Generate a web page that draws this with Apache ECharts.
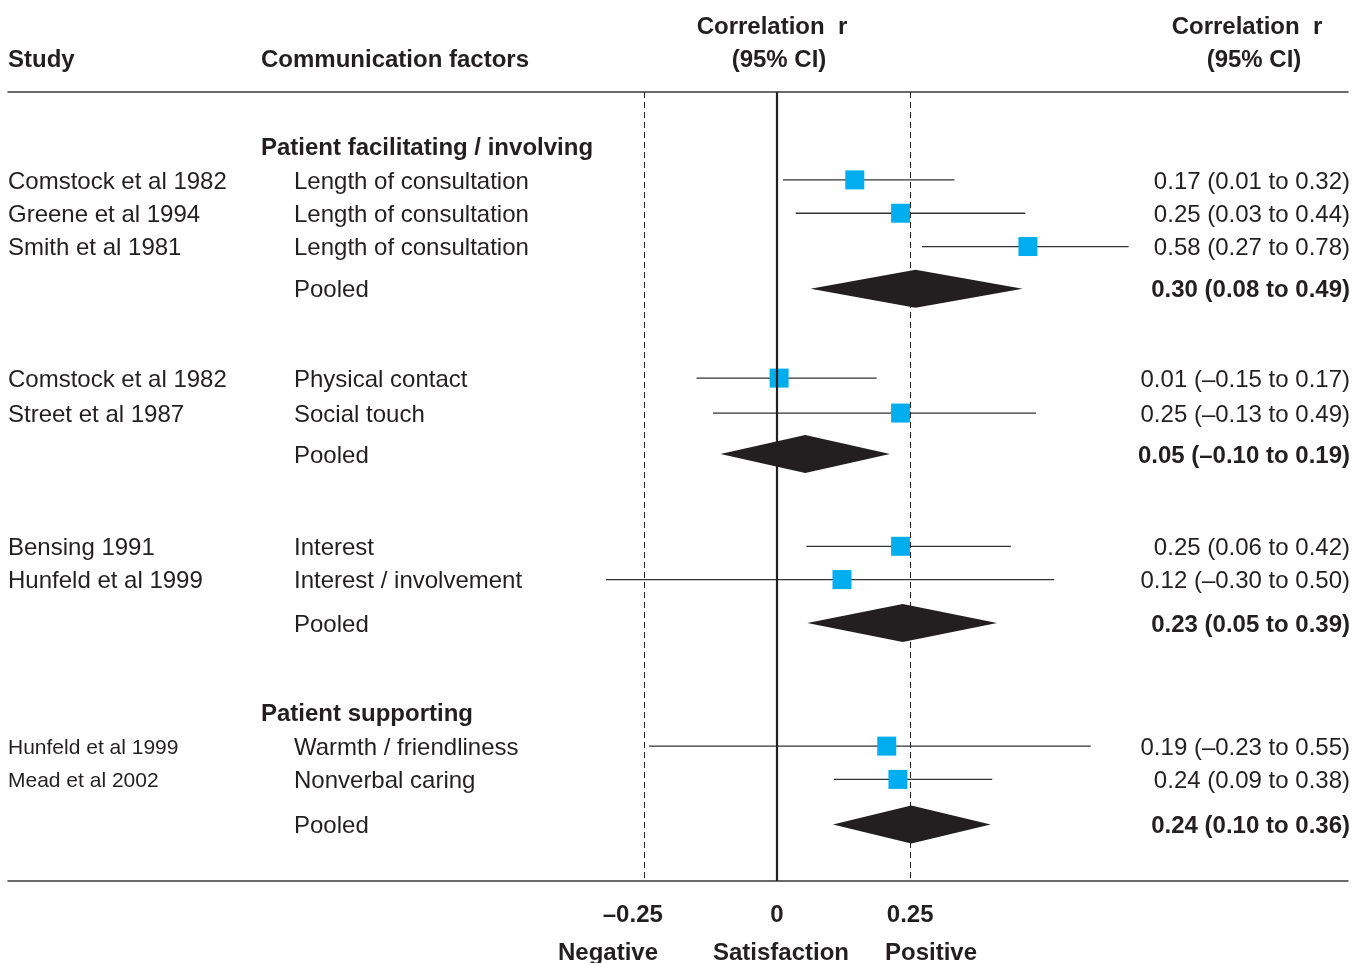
<!DOCTYPE html>
<html>
<head>
<meta charset="utf-8">
<title>Communication factors and satisfaction</title>
<script src="https://cdn.jsdelivr.net/npm/echarts@6/dist/echarts.min.js"></script>
<style>
    html, body { margin: 0; padding: 0; background: #fff; }
    #chart { width: 1352px; height: 963px; }
</style>
</head>
<body>
<div id="chart"></div>
<script>
// rows of the table, top to bottom
var studyNames = ['Comstock et al 1982', 'Greene et al 1994', 'Smith et al 1981', '',
    'Comstock et al 1982', 'Street et al 1987', '',
    'Bensing 1991', 'Hunfeld et al 1999', '',
    'Hunfeld et al 1999', 'Mead et al 2002', ''];
var factorNames = ['Length of consultation', 'Length of consultation', 'Length of consultation', 'Pooled',
    'Physical contact', 'Social touch', 'Pooled',
    'Interest', 'Interest / involvement', 'Pooled',
    'Warmth / friendliness', 'Nonverbal caring', 'Pooled'];
var ciLabels = ['0.17 (0.01 to 0.32)', '0.25 (0.03 to 0.44)', '0.58 (0.27 to 0.78)', '0.30 (0.08 to 0.49)',
    '0.01 (\u20130.15 to 0.17)', '0.25 (\u20130.13 to 0.49)', '0.05 (\u20130.10 to 0.19)',
    '0.25 (0.06 to 0.42)', '0.12 (\u20130.30 to 0.50)', '0.23 (0.05 to 0.39)',
    '0.19 (\u20130.23 to 0.55)', '0.24 (0.09 to 0.38)', '0.24 (0.10 to 0.36)'];
var isPooled = [false, false, false, true, false, false, true, false, false, true, false, false, true];
// plotted position of each mark (as drawn in the figure)
var estimates = [0.146, 0.232, 0.471, 0.260, 0.004, 0.232, 0.053, 0.232, 0.122, 0.236, 0.206, 0.227, 0.252];
var lowers = [0.011, 0.035, 0.272, 0.063, -0.151, -0.120, -0.106, 0.055, -0.321, 0.057, -0.240, 0.107, 0.105];
var uppers = [0.333, 0.466, 0.660, 0.461, 0.187, 0.486, 0.212, 0.439, 0.520, 0.413, 0.589, 0.404, 0.401];
// vertical row slots
var rowPos = [1, 2, 3, 4.27, 6.95, 8, 9.23, 12, 13, 14.3, 18, 19, 20.35];
var headings = ['Patient facilitating / involving', 'Patient supporting'];
var headingPos = [0, 17];
var refLines = [-0.25, 0, 0.25];
var tickValues = [-0.25, 0, 0.25];
var smallNameRows = [10, 11];

var FONT = '"Liberation Sans", Arial, Helvetica, sans-serif';
var INK = '#231f20';
var TEXT_NUDGE = 2; // text sits a touch lower than the marks' centre line

var chart = echarts.init(document.getElementById('chart'));

var rowData = estimates.map(function(v, i){
    return [lowers[i], uppers[i], v, rowPos[i], i];
});

function txt(text, x, y, opts){
    opts = opts || {};
    return {
        type: 'text',
        style: {
            text: text,
            x: x,
            y: y,
            fill: INK,
            font: (opts.bold ? 'bold ' : '') + (opts.size || 24) + 'px ' + FONT,
            align: opts.align || 'left',
            textAlign: opts.align || 'left',
            verticalAlign: 'middle',
            textVerticalAlign: 'middle'
        }
    };
}

function renderRow(params, api){
    var i = api.value(4),
        pos = api.value(3),
        lo = api.coord([api.value(0), pos]),
        hi = api.coord([api.value(1), pos]),
        mid = api.coord([api.value(2), pos]),
        y = mid[1],
        ty = y + TEXT_NUDGE,
        children = [];

    if(isPooled[i]){
        children.push({
            type: 'polygon',
            shape: { points: [[lo[0], y], [mid[0], y - 19], [hi[0], y], [mid[0], y + 19]] },
            style: { fill: INK }
        });
    }else{
        children.push({
            type: 'line',
            shape: { x1: lo[0], y1: y, x2: hi[0], y2: y },
            style: { stroke: '#333', lineWidth: 1.3 }
        });
        children.push({
            type: 'rect',
            shape: { x: mid[0] - 9.5, y: y - 9.5, width: 19, height: 19 },
            style: { fill: '#00aeef' }
        });
    }

    var small = smallNameRows.indexOf(i) >= 0;
    if(studyNames[i]){
        children.push(txt(studyNames[i], 8, ty, { size: small ? 21 : 24 }));
    }
    children.push(txt(factorNames[i], 294, ty));
    children.push(txt(ciLabels[i], 1350, ty, { align: 'right', bold: isPooled[i] }));

    return { type: 'group', children: children };
}

function renderHeading(params, api){
    var y = api.coord([0, api.value(0)])[1];
    return txt(headings[api.value(1)], 261, y + TEXT_NUDGE, { bold: true });
}

var option = {
    animation: false,
    grid: { left: 8, right: 4, top: 92, bottom: 82 },
    xAxis: [{
        type: 'value',
        position: 'bottom',
        min: -1.4433,
        max: 1.0717,
        axisLine: { show: true, onZero: false, lineStyle: { color: '#3a3a3a', width: 1.5 } },
        axisTick: { show: false },
        splitLine: { show: false },
        axisLabel: {
            customValues: tickValues,
            margin: 22,
            color: INK,
            fontFamily: FONT,
            fontWeight: 'bold',
            fontSize: 24,
            formatter: function(v){
                if(v < 0){
                    return '{neg|\u2013' + Math.abs(v) + '}';
                }
                return String(v);
            },
            rich: {
                neg: { padding: [0, 22, 0, 0], fontWeight: 'bold', fontSize: 24, fontFamily: FONT, color: INK }
            }
        }
    }, {
        type: 'value',
        position: 'top',
        min: -1.4433,
        max: 1.0717,
        axisLine: { show: true, onZero: false, lineStyle: { color: '#3a3a3a', width: 1.5 } },
        axisTick: { show: false },
        axisLabel: { show: false },
        splitLine: { show: false }
    }],
    yAxis: {
        type: 'value',
        inverse: true,
        min: -1.64,
        max: 22.05,
        show: false
    },
    graphic: [
        txt('Study', 8, 60, { bold: true }),
        txt('Communication factors', 261, 60, { bold: true }),
        txt('Correlation  r', 772, 27, { bold: true, align: 'center' }),
        txt('(95% CI)', 779, 60, { bold: true, align: 'center' }),
        txt('Correlation  r', 1247, 27, { bold: true, align: 'center' }),
        txt('(95% CI)', 1254, 60, { bold: true, align: 'center' }),
        txt('Negative', 608, 953, { bold: true, align: 'center' }),
        txt('Satisfaction', 781, 953, { bold: true, align: 'center' }),
        txt('Positive', 931, 953, { bold: true, align: 'center' })
    ],
    series: [{
        type: 'custom',
        clip: false,
        renderItem: renderRow,
        data: rowData,
        markLine: {
            silent: true,
            symbol: 'none',
            label: { show: false },
            data: refLines.map(function(v){
                return {
                    xAxis: v,
                    lineStyle: v === 0 ?
                        { color: INK, width: 2.2, type: 'solid' } :
                        { color: INK, width: 1, type: [6, 4] }
                };
            })
        },
        z: 3
    }, {
        type: 'custom',
        clip: false,
        renderItem: renderHeading,
        data: headingPos.map(function(p, i){ return [p, i]; })
    }]
};

chart.setOption(option);
</script>
</body>
</html>
